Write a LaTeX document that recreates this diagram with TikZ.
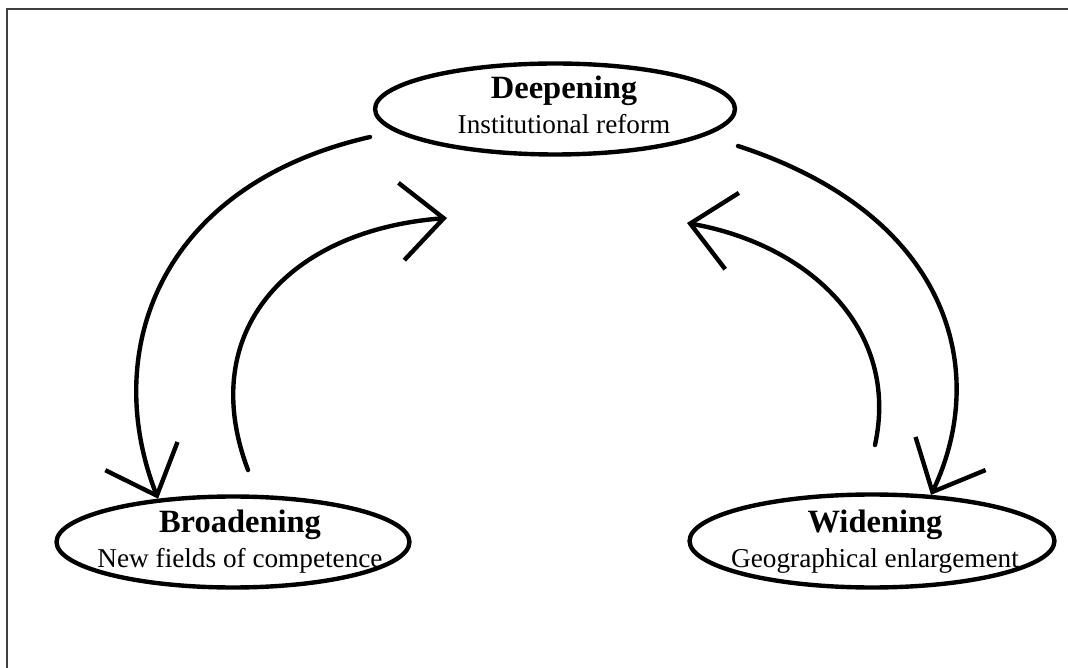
\documentclass[tikz,border=0pt]{standalone}
\usepackage{fontspec}
\setmainfont{Liberation Serif}
\usetikzlibrary{arrows.meta, shapes.geometric}

\newcommand{\stagetitle}[1]{{\bfseries\fontsize{18.5}{20}\selectfont #1}}

\begin{document}
\begin{tikzpicture}[
  x=0.02cm, y=-0.02cm,
  stage/.style={draw, ellipse, line width=2.5pt, minimum height=1.82cm, inner sep=0pt},
  caption/.style={align=center, inner sep=0pt, font=\fontsize{15.5}{20}\selectfont},
  flow/.style={-{Straight Barb[length=0.85cm, width=1.55cm]}, line width=2.5pt, line cap=round},
  frame/.style={draw=black!75, line width=0.04cm},
]
\useasboundingbox (0,0) rectangle (1068,668);

% Frame
\draw[frame] (7,668) -- (7,9) -- (1068,9);

% Deepening (top)
\node[stage, minimum width=7.2cm] (deep) at (555,109) {};
\node[caption] (deeptxt) at (564,105) {\stagetitle{Deepening}\\Institutional reform};

% Broadening (left)
\node[stage, minimum width=7.06cm] (broad) at (233,542) {};
\node[caption] (broadtxt) at (240,542) {\stagetitle{Broadening}\\New fields of competence};

% Widening (right)
\node[stage, minimum width=7.3cm, minimum height=1.86cm] (widen) at (872,541) {};
\node[caption] (widentxt) at (875,542) {\stagetitle{Widening}\\Geographical enlargement};

% Free ends
\coordinate (deepL) at (370,137);
\coordinate (deepR) at (738,146);
\coordinate (broadT) at (248,470);
\coordinate (widenT) at (875,445);
\coordinate (backL) at (447,218);
\coordinate (backR) at (687,223);

% Arrows
\draw[flow] (deepL) .. controls (160,185) and (100,350) .. (broad.150);
\draw[flow] (broadT) .. controls (195,330) and (290,230) .. (backL);
\draw[flow] (deepR) .. controls (950,215) and (990,370) .. (widen.38);
\draw[flow] (widenT) .. controls (900,330) and (810,245) .. (backR);

\end{tikzpicture}
\end{document}
